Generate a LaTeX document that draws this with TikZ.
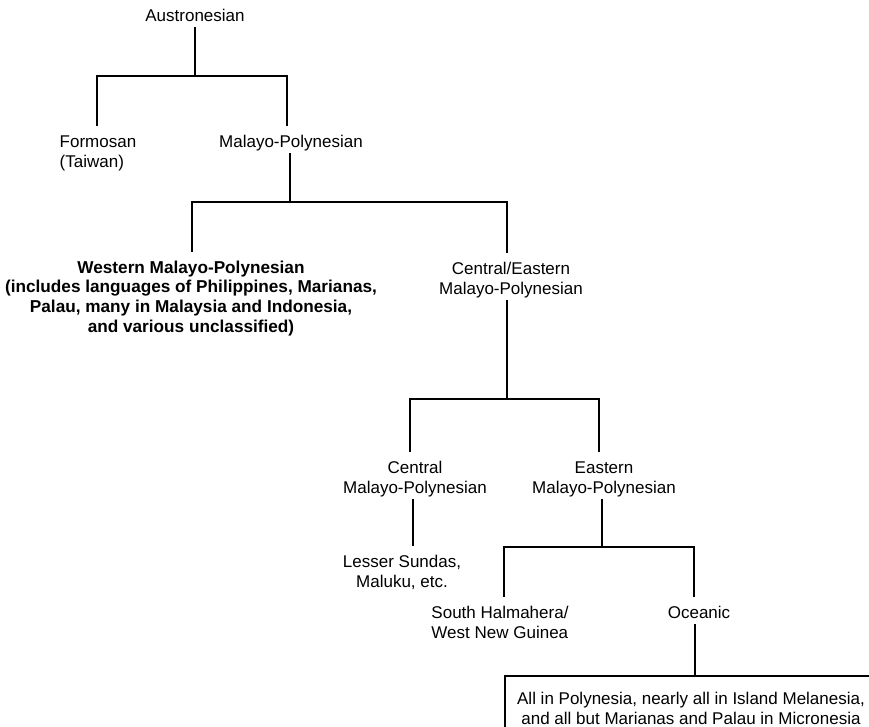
\documentclass[tikz,border=0pt]{standalone}
\usepackage{fontspec}
\setmainfont{Liberation Sans}
\usetikzlibrary{calc}
\newcommand\lbfont{\fontsize{17pt}{20pt}\selectfont}
\newcommand\topst{\rule{0pt}{22pt}}
\newcommand\botst{\rule[-6pt]{0pt}{6pt}}
\begin{document}
\begin{tikzpicture}[x=1pt,y=-1pt,
  conn/.style={line width=1.8pt, line cap=rect},
  lbl/.style={inner sep=0pt, align=center, anchor=north, font=\lbfont},
  boxnode/.style={lbl, draw, line width=1.8pt, inner xsep=0pt, inner ysep=7pt, minimum width=372pt}]
\useasboundingbox (0,0) rectangle (869,726);
\clip (0,0) rectangle (869,726);
\fill[white] (0,0) rectangle (869,726);

% nodes
\node[lbl] (aus) at (195,-1) {\topst Austronesian\botst};
\node[lbl, align=left] (form) at (98,125) {\topst Formosan\\(Taiwan)\botst};
\node[lbl] (mp) at (291,125) {\topst Malayo-Polynesian\botst};
\node[lbl, font=\fontsize{17.2pt}{19.6pt}\selectfont\bfseries] (wmp) at (191,251) {\topst Western Malayo-Polynesian\\(includes languages of Philippines, Marianas,\\Palau, many in Malaysia and Indonesia,\\and various unclassified)\botst};
\node[lbl] (cem) at (511,252) {\topst Central/Eastern\\Malayo-Polynesian\botst};
\node[lbl] (cmp) at (415,451) {\topst Central\\Malayo-Polynesian\botst};
\node[lbl] (emp) at (604,451) {\topst Eastern\\Malayo-Polynesian\botst};
\node[lbl] (ls) at (402,545) {\topst Lesser Sundas,\\Maluku, etc.\botst};
\node[lbl, align=left] (sh) at (500,596) {\topst South Halmahera/\\West New Guinea\botst};
\node[lbl] (oce) at (699,596) {\topst Oceanic\botst};
\node[boxnode] (box) at (691,675) {\topst All in Polynesia, nearly all in Island Melanesia,\\and all but Marianas and Palau in Micronesia};

% junctions
\coordinate (j1) at (aus.south |- 0,76);
\coordinate (j2) at ([xshift=-1pt]mp.south |- 0,202);
\coordinate (j3) at ([xshift=-4pt]cem.south |- 0,399);
\coordinate (j4) at ([xshift=-2pt]emp.south |- 0,547);

% connectors
\draw[conn] (aus.south) -- (j1);
\draw[conn] ([xshift=-1pt]form.north) |- (j1) -| ([xshift=-4pt]mp.north);
\draw[conn] ([xshift=-1pt]mp.south) -- (j2);
\draw[conn] ([xshift=1pt]wmp.north) |- (j2) -| ([xshift=-4pt]cem.north);
\draw[conn] ([xshift=-4pt]cem.south) -- (j3);
\draw[conn] ([xshift=-5pt]cmp.north) |- (j3) -| ([xshift=-5pt]emp.north);
\draw[conn] ([xshift=-2pt]cmp.south) -- ([xshift=-2pt]cmp.south |- ls.north);
\draw[conn] ([xshift=-2pt]emp.south) -- (j4);
\draw[conn] ([xshift=4pt]sh.north) |- (j4) -| ([xshift=-5pt]oce.north);
\draw[conn] ([xshift=-4pt]oce.south) -- ([xshift=-4pt]oce.south |- box.north);
\end{tikzpicture}
\end{document}
